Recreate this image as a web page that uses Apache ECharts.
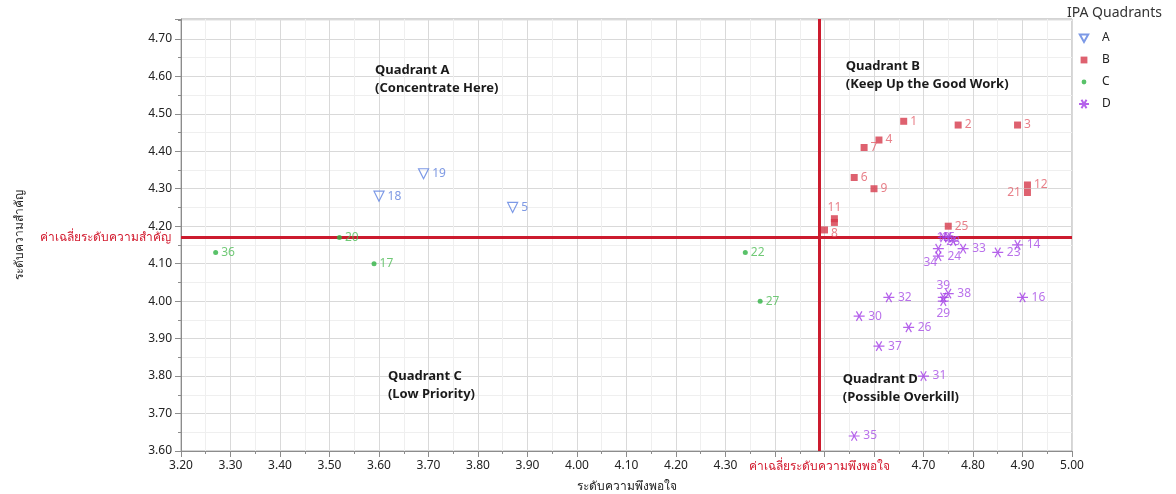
<!DOCTYPE html>
<html>
<head>
<meta charset="utf-8">
<script src="https://cdn.jsdelivr.net/npm/echarts@6/dist/echarts.min.js"></script>
<style>
html,body{margin:0;padding:0;background:#fff;}
#chart{width:1176px;height:494px;}
</style>
</head>
<body>
<div id="chart"></div>
<script>
// ---- data ----
const aIds = [5, 18, 19];
const aX = [3.87, 3.60, 3.69];
const aY = [4.25, 4.28, 4.34];

const bIds = [1, 2, 3, 4, 6, 7, 8, 9, 10, 11, 12, 21, 25];
const bX = [4.66, 4.77, 4.89, 4.61, 4.56, 4.58, 4.50, 4.60, 4.52, 4.52, 4.91, 4.91, 4.75];
const bY = [4.48, 4.47, 4.47, 4.43, 4.33, 4.41, 4.19, 4.30, 4.21, 4.22, 4.31, 4.29, 4.20];

const cIds = [17, 20, 22, 27, 36];
const cX = [3.59, 3.52, 4.34, 4.37, 3.27];
const cY = [4.10, 4.17, 4.13, 4.00, 4.13];

const dIds = [13, 14, 15, 16, 23, 24, 26, 28, 29, 30, 31, 32, 33, 34, 35, 37, 38, 39];
const dX = [4.74, 4.89, 4.75, 4.90, 4.85, 4.73, 4.67, 4.76, 4.74, 4.57, 4.70, 4.63, 4.78, 4.73, 4.56, 4.61, 4.75, 4.74];
const dY = [4.17, 4.15, 4.17, 4.01, 4.13, 4.12, 3.93, 4.16, 4.00, 3.96, 3.80, 4.01, 4.14, 4.14, 3.64, 3.88, 4.02, 4.01];

const meanX = 4.49;
const meanY = 4.17;
const meanXLabel = 'ค่าเฉลี่ยระดับความพึงพอใจ';
const meanYLabel = 'ค่าเฉลี่ยระดับความสำคัญ';
const xTitle = 'ระดับความพึงพอใจ';
const yTitle = 'ระดับความสำคัญ';
const legendTitle = 'IPA Quadrants';
const seriesNames = ['A', 'B', 'C', 'D'];

const quadrantTexts = ['Quadrant A\n(Concentrate Here)', 'Quadrant B\n(Keep Up the Good Work)', 'Quadrant C\n(Low Priority)', 'Quadrant D\n(Possible Overkill)'];
const quadrantX = [3.592, 4.543, 3.618, 4.537];
const quadrantY = [4.617, 4.628, 3.80, 3.792];

// ---- styling (label placement exceptions) ----
const labelPlacement = {
  21: {position: 'left'},
  11: {position: 'top', distance: 2},
  10: {show: false},
  8: {position: 'right', offset: [0, 4]},
  29: {position: 'bottom', distance: 1},
  39: {position: 'top', distance: 0},
  34: {position: 'bottom', offset: [-8, 0]},
  13: {position: 'inside'},
  15: {position: 'inside'},
  28: {position: 'inside'}
};

const FONT = '"Noto Sans", "DejaVu Sans", sans-serif';
const colors = {A: '#5b7fe0', B: '#d63a4b', C: '#2fb343', D: '#a33be6'};
const labelColors = {A: '#5e80dc', B: '#e2606b', C: '#4dbb55', D: '#a84ee6'};
const asterisk = 'path://M0 5 L10 5 M2.5 0.67 L7.5 9.33 M7.5 0.67 L2.5 9.33';
const legendIcons = {
  A: 'path://M0 0 M10 10 M0.8 1.5 L9.2 1.5 L5 9 Z',
  B: 'path://M0 0 M10 10 M1.6 1.6 L8.4 1.6 L8.4 8.4 L1.6 8.4 Z',
  C: 'path://M0 0 M10 10 M5 2.6 A2.4 2.4 0 1 1 4.99 2.6 Z',
  D: asterisk
};

function build(ids, xs, ys) {
  return ids.map((id, i) => {
    const item = {value: [xs[i], ys[i], id]};
    if (labelPlacement[id]) item.label = labelPlacement[id];
    return item;
  });
}

function labelOf(name) {
  return {
    show: true, position: 'right', distance: 3,
    formatter: p => String(p.value[2]),
    color: labelColors[name], fontSize: 12, fontFamily: FONT
  };
}

const chart = echarts.init(document.getElementById('chart'), null, {renderer: 'canvas'});

const axisCommon = {
  type: 'value',
  interval: 0.1,
  axisLine: {show: true, lineStyle: {color: '#8c8c8c'}},
  axisTick: {show: true, inside: false, length: 6, lineStyle: {color: '#8c8c8c'}},
  minorTick: {show: true, splitNumber: 2, length: 3, lineStyle: {color: '#8c8c8c'}},
  splitLine: {show: true, lineStyle: {color: '#d9d9d9', width: 1}},
  minorSplitLine: {show: true, lineStyle: {color: '#efefef', width: 1}},
  nameTextStyle: {color: '#222', fontSize: 12, fontFamily: FONT}
};

const option = {
  animation: false,
  backgroundColor: '#fff',
  title: {
    text: legendTitle, left: 1062, top: 1,
    textStyle: {fontSize: 14, fontWeight: 'normal', color: '#333', fontFamily: FONT}
  },
  legend: {
    orient: 'vertical', left: 1073, top: 27,
    itemWidth: 10, itemHeight: 10, itemGap: 10,
    data: seriesNames.map(n => ({name: n, icon: legendIcons[n]})),
    textStyle: {fontSize: 12, color: '#222', fontFamily: FONT, padding: [0, 0, 0, 8]}
  },
  grid: {
    left: 181, right: 104, top: 19, bottom: 43,
    outerBoundsMode: 'none', containLabel: false,
    show: true, borderColor: '#a8a8a8', borderWidth: 1, backgroundColor: 'transparent'
  },
  xAxis: Object.assign({}, axisCommon, {
    min: 3.2, max: 5.0,
    name: xTitle, nameLocation: 'middle', nameGap: 30,
    axisLabel: {
      margin: 9, color: '#222', fontSize: 12, fontFamily: FONT,
      formatter: v => (Math.abs(v - 4.4) < 1e-6 || Math.abs(v - 4.5) < 1e-6 || Math.abs(v - 4.6) < 1e-6) ? '' : v.toFixed(2)
    }
  }),
  yAxis: Object.assign({}, axisCommon, {
    min: 3.6, max: 4.753,
    name: yTitle, nameLocation: 'middle', nameGap: 155, nameRotate: 90,
    axisLabel: {
      margin: 9, color: '#222', fontSize: 12, fontFamily: FONT,
      showMaxLabel: false,
      formatter: v => v.toFixed(2)
    }
  }),
  series: [
    {
      name: 'A', type: 'scatter', symbol: 'triangle', symbolRotate: 180, symbolSize: 10,
      itemStyle: {color: 'rgba(255,255,255,0)', borderColor: colors.A, borderWidth: 1.2},
      label: labelOf('A'),
      data: build(aIds, aX, aY), z: 5
    },
    {
      name: 'B', type: 'scatter', symbol: 'rect', symbolSize: 7,
      itemStyle: {color: colors.B},
      label: labelOf('B'),
      data: build(bIds, bX, bY), z: 5,
      markLine: {
        silent: true, symbol: 'none', z: 3,
        lineStyle: {color: '#cc1b2e', width: 3, type: 'solid'},
        label: {show: true, position: 'start', color: '#d2192d', fontSize: 12, fontFamily: FONT},
        data: [
          {xAxis: meanX, label: {formatter: meanXLabel, distance: 10}},
          {yAxis: meanY, label: {formatter: meanYLabel, distance: 10}}
        ]
      }
    },
    {
      name: 'C', type: 'scatter', symbol: 'circle', symbolSize: 5,
      itemStyle: {color: colors.C},
      label: labelOf('C'),
      data: build(cIds, cX, cY), z: 5
    },
    {
      name: 'D', type: 'scatter', symbol: asterisk, symbolSize: 11, symbolKeepAspect: true,
      itemStyle: {color: 'rgba(255,255,255,0)', borderColor: colors.D, borderWidth: 1.2},
      label: labelOf('D'),
      data: build(dIds, dX, dY), z: 5
    }
  ]
};

chart.setOption(option);

// quadrant captions: anchor = centre of first line
const graphics = quadrantTexts.map((t, i) => {
  const p = chart.convertToPixel({gridIndex: 0}, [quadrantX[i], quadrantY[i]]);
  return {
    type: 'text', x: p[0], y: p[1] - 9, z: 10,
    style: {
      text: t, fill: '#1a1a1a', font: 'bold 13px ' + FONT,
      lineHeight: 18, verticalAlign: 'top', align: 'left'
    }
  };
});
chart.setOption({graphic: graphics});
</script>
</body>
</html>
